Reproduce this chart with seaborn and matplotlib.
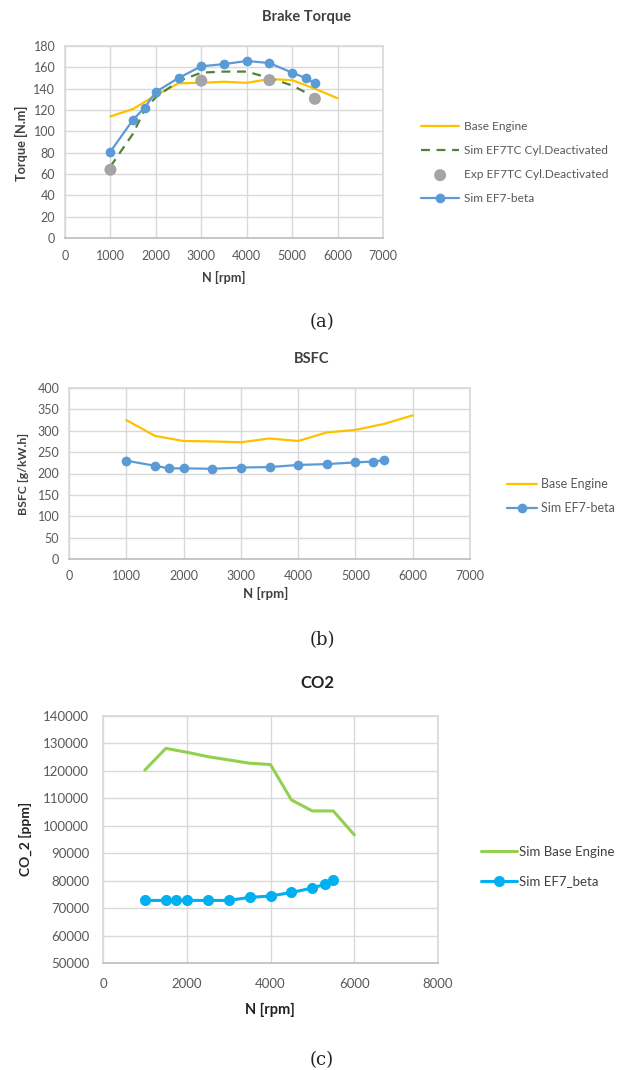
import numpy as np
import pandas as pd
import seaborn as sns
import matplotlib.pyplot as plt

# ---- data ----
rpm_base = [1000, 1500, 2000, 2500, 3000, 3500, 4000, 4500, 5000, 5500, 6000]
rpm_beta = [1000, 1500, 1750, 2000, 2500, 3000, 3500, 4000, 4500, 5000, 5300, 5500]
rpm_cyl = [1000, 1500, 1750, 2000, 2500, 3000, 3500, 4000, 4500, 5000, 5500]
rpm_exp = [1000, 3000, 4500, 5500]

torque_base = [114, 121, 134, 145, 145.5, 146.5, 145.5, 149, 148, 140, 131]
torque_cyl = [67, 98, 120, 132, 147, 155, 156, 156, 150, 143, 132]
torque_exp = [64, 147.5, 148, 130.5]
torque_beta = [81, 111, 122, 137, 150, 161, 163, 166, 164, 155, 150, 145]

bsfc_base = [325, 288, 276, 275, 273, 282, 276, 296, 302, 316, 336]
bsfc_beta = [230, 218, 212, 212, 211, 214, 215, 220, 222, 226, 228, 231]

co2_base = [120300, 128200, 126800, 125200, 124000, 122800, 122300, 109400, 105400, 105400, 96700]
co2_beta = [72800, 72800, 72800, 72800, 72800, 72800, 73900, 74400, 75700, 77300, 78700, 80300]

sns.set_theme(style="white")
plt.rcParams['font.family'] = ['Lato', 'DejaVu Sans']

W, H = 635, 1070
fig = plt.figure(figsize=(W / 100, H / 100), dpi=100)
tick_col = '#595959'
grid_col = '#D9D9D9'
lab_col = '#404040'


def px_axes(l, t, r, b):
    return fig.add_axes([l / W, 1 - b / H, (r - l) / W, (b - t) / H])


def style(ax, xmax, xstep, ymin, ymax, ystep, fs, xpad, ypad):
    ax.set_xlim(0, xmax)
    ax.set_ylim(ymin, ymax)
    ax.set_xticks(np.arange(0, xmax + 1, xstep))
    ax.set_yticks(np.arange(ymin, ymax + 1, ystep))
    ax.grid(True, color=grid_col, lw=1)
    for s in ax.spines.values():
        s.set_color(grid_col)
    ax.spines['bottom'].set_color('#BFBFBF')
    ax.tick_params(length=0, labelsize=fs, colors=tick_col)
    ax.tick_params(axis='x', pad=xpad)
    ax.tick_params(axis='y', pad=ypad)
    ax.set_xlabel('')
    ax.set_ylabel('')
    ax.set_axisbelow(True)


def add_legend(ax, x, y, fs, hl, sp, tp, col):
    h, l = ax.get_legend_handles_labels()
    ax.get_legend().remove()
    fig.legend(h, l, loc='upper left', bbox_to_anchor=(x / W, 1 - y / H), frameon=False,
               fontsize=fs, handlelength=hl, labelspacing=sp, handletextpad=tp,
               borderpad=0, borderaxespad=0, labelcolor=col)


def txt(x, y, s, fs, bold=True, rot=0, col=lab_col, **kw):
    fig.text(x / W, 1 - y / H, s, ha='center', va='center', fontsize=fs,
             fontweight='bold' if bold else 'normal', color=col, rotation=rot, **kw)


# (a) Brake Torque
ax1 = px_axes(65, 46, 383, 238)
sns.lineplot(x=rpm_base, y=torque_base, color='#FFC000', lw=1.6, ax=ax1, label='Base Engine')
sns.lineplot(x=rpm_cyl, y=torque_cyl, color='#548235', lw=1.6, ax=ax1,
             label='Sim EF7TC Cyl.Deactivated', linestyle=(0, (4, 3)))
sns.scatterplot(x=rpm_exp, y=torque_exp, color='#A5A5A5', s=75, edgecolor='none', ax=ax1,
                label='Exp EF7TC Cyl.Deactivated', zorder=4)
sns.lineplot(x=rpm_beta, y=torque_beta, color='#5B9BD5', lw=1.6, marker='o', markersize=7,
             markeredgewidth=0, ax=ax1, label='Sim EF7-beta', zorder=5)
style(ax1, 7000, 1000, 0, 180, 20, 9, 9, 7)
add_legend(ax1, 421, 121, 8.6, 3.2, 1.1, 0.4, tick_col)
txt(307, 17, 'Brake Torque', 10.5)
txt(224, 277, 'N [rpm]', 9.2)
txt(21, 143, 'Torque [N.m]', 9.2, rot=90)
txt(322, 322, '(a)', 13, bold=False, col='#222222', family='DejaVu Serif')

# (b) BSFC
ax2 = px_axes(69, 388, 470, 559)
sns.lineplot(x=rpm_base, y=bsfc_base, color='#FFC000', lw=1.6, ax=ax2, label='Base Engine')
sns.lineplot(x=rpm_beta, y=bsfc_beta, color='#5B9BD5', lw=1.6, marker='o', markersize=7,
             markeredgewidth=0, ax=ax2, label='Sim EF7-beta')
style(ax2, 7000, 1000, 0, 400, 50, 9, 8, 7)
add_legend(ax2, 507, 478, 9, 2.4, 1.0, 0.3, tick_col)
txt(312, 359, 'BSFC', 10.5)
txt(266, 593, 'N [rpm]', 9.5)
txt(24, 474, 'BSFC [g/kW.h]', 8.8, rot=90)
txt(322, 640, '(b)', 13, bold=False, col='#222222', family='DejaVu Serif')

# (c) CO2
ax3 = px_axes(103, 716, 438, 963)
sns.lineplot(x=rpm_base, y=co2_base, color='#92D050', lw=2.2, ax=ax3, label='Sim Base Engine')
sns.lineplot(x=rpm_beta, y=co2_beta, color='#00B0F0', lw=2.2, marker='o', markersize=8,
             markeredgewidth=0, ax=ax3, label='Sim EF7_beta')
style(ax3, 8000, 2000, 50000, 140000, 10000, 9.5, 11, 10)
add_legend(ax3, 481, 846, 9.5, 2.7, 1.3, 0.15, '#404040')
txt(317, 683, 'CO2', 12, col='#222222')
txt(270, 1010, 'N [rpm]', 10.5, col='#222222')
txt(25, 839, 'CO_2 [ppm]', 10, rot=90, col='#222222')
txt(322, 1060, '(c)', 13, bold=False, col='#222222', family='DejaVu Serif')

fig.savefig('out.png', dpi=100)
